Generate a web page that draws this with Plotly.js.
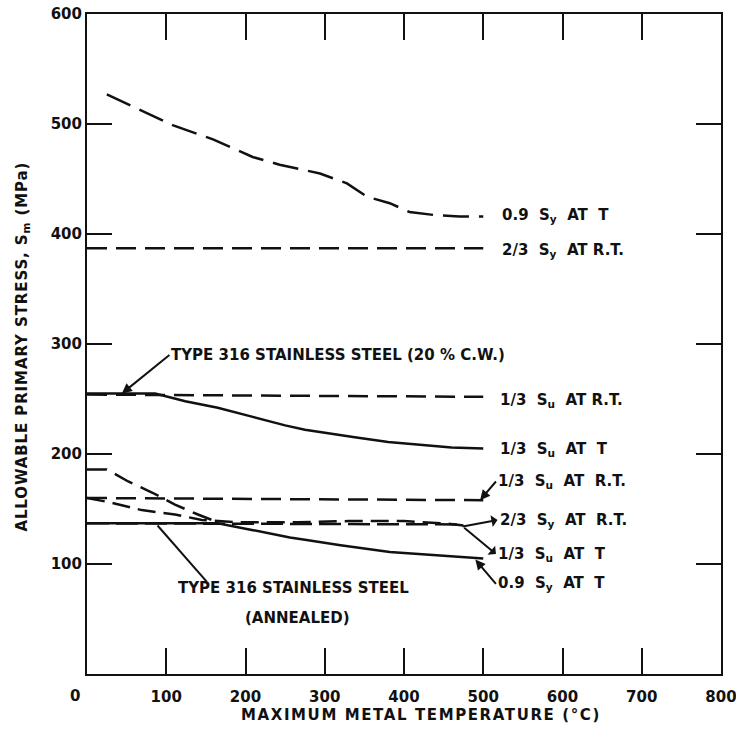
<!DOCTYPE html>
<html>
<head>
<meta charset="utf-8">
<script src="https://cdn.plot.ly/plotly-3.0.1.min.js"></script>
<style>body{margin:0;padding:0;background:#fff;}</style>
</head>
<body>
<div id="chart" style="width:736px;height:740px;"></div>
<script>
// ---- Data ----
// Type 316 SS, 20% cold worked
const cw09SyT_T = [25, 58, 108, 159, 209, 243, 294, 328, 353, 382, 407, 441, 470, 500];
const cw09SyT_S = [527, 516, 499, 486, 470, 463, 455, 446, 434, 428, 420, 417, 416, 416];
const cw23SyRT_T = [0, 500];
const cw23SyRT_S = [387, 387];
const cw13SuRT_T = [0, 500];
const cw13SuRT_S = [254, 252];
const cwSm_T = [0, 86, 124, 165, 208, 250, 275, 310, 340, 380, 424, 460, 500];
const cwSm_S = [255, 255, 248, 242, 234, 226, 222, 218, 215, 211, 208, 206, 205];
// Type 316 SS, annealed
const an09SyT_T = [0, 25, 52, 82, 111, 140, 165];
const an09SyT_S = [186, 186, 175, 165, 154, 145, 138];
const an13SuRT_T = [0, 500];
const an13SuRT_S = [160, 158];
const an13SuT_T = [0, 29, 69, 111, 145, 187, 266, 330, 400, 450, 475];
const an13SuT_S = [160, 156, 149, 145, 140, 138, 138, 139, 139, 137, 135];
const an23SyRT_T = [0, 475];
const an23SyRT_S = [137, 136];
const anSm_T = [0, 165, 208, 256, 275, 320, 382, 440, 500];
const anSm_S = [137, 137, 131, 124, 122, 117, 111, 108, 105];

const xTickVals = [100, 200, 300, 400, 500, 600, 700, 800];
const xTickText = ['100', '200', '300', '400', '500', '600', '700', '800'];
const yTickVals = [100, 200, 300, 400, 500, 600];
const yTickText = ['100', '200', '300', '400', '500', '600'];

const INK = '#111';
const FONT = 'DejaVu Sans, Liberation Sans, sans-serif';
const DASH = '20px,9px';

function ln(x, y, dash, name) {
  return {type: 'scatter', mode: 'lines', x: x, y: y, name: name,
    line: {color: INK, width: 2.5, dash: dash}, hoverinfo: 'skip'};
}

const traces = [
  ln(cw09SyT_T, cw09SyT_S, '26px,10px', 'CW 0.9 Sy at T'),
  ln(cw23SyRT_T, cw23SyRT_S, DASH, 'CW 2/3 Sy at RT'),
  ln(cw13SuRT_T, cw13SuRT_S, DASH, 'CW 1/3 Su at RT'),
  ln(cwSm_T, cwSm_S, 'solid', 'CW Sm'),
  ln(an09SyT_T, an09SyT_S, DASH, 'Annealed 0.9 Sy at T'),
  ln(an13SuRT_T, an13SuRT_S, DASH, 'Annealed 1/3 Su at RT'),
  ln(an13SuT_T, an13SuT_S, '18px,8px', 'Annealed 1/3 Su at T'),
  ln(an23SyRT_T, an23SyRT_S, '22px,7px', 'Annealed 2/3 Sy at RT'),
  ln(anSm_T, anSm_S, 'solid', 'Annealed Sm')
];

const SP = '\u00a0\u00a0';
const labelFont = {family: FONT, size: 15, color: INK, weight: 'bold'};
function lab(x, y, text) {
  return {x: x, y: y, xref: 'x', yref: 'y', text: text, showarrow: false,
    xanchor: 'left', yanchor: 'middle', font: labelFont};
}
// label with a leader line: text's left edge sits at (tx, ty), leader runs to (px, py)
function labArrow(tx, ty, px, py, text, side) {
  return {x: px, y: py, ax: tx, ay: ty, xref: 'x', yref: 'y', axref: 'x', ayref: 'y',
    text: text, showarrow: true, arrowhead: 2, arrowsize: 1, arrowwidth: 2,
    arrowcolor: INK, arrowside: side || 'end', standoff: 0, startstandoff: 0,
    xanchor: 'left', yanchor: 'middle', borderpad: 1, font: labelFont};
}

const annotations = [
  lab(521, 417, '0.9' + SP + 'S<sub>y</sub>' + SP + 'AT' + SP + 'T'),
  lab(521, 385, '2/3' + SP + 'S<sub>y</sub>' + SP + 'AT R.T.'),
  lab(519, 249, '1/3' + SP + 'S<sub>u</sub>' + SP + 'AT R.T.'),
  lab(519, 204, '1/3' + SP + 'S<sub>u</sub>' + SP + 'AT' + SP + 'T'),
  labArrow(516, 175, 496, 158, '1/3' + SP + 'S<sub>u</sub>' + SP + 'AT' + SP + 'R.T.'),
  labArrow(518, 140, 474, 134, '2/3' + SP + 'S<sub>y</sub>' + SP + 'AT' + SP + 'R.T.', 'start'),
  labArrow(516, 109, 476, 133, '1/3' + SP + 'S<sub>u</sub>' + SP + 'AT' + SP + 'T', 'start'),
  labArrow(516, 82, 490, 104, '0.9' + SP + 'S<sub>y</sub>' + SP + 'AT' + SP + 'T'),
  labArrow(104, 290, 44, 255, 'TYPE 316 STAINLESS STEEL (20 % C.W.)'),
  {x: 260, y: 78, xref: 'x', yref: 'y', text: 'TYPE 316 STAINLESS STEEL',
    showarrow: false, xanchor: 'center', yanchor: 'middle', font: labelFont},
  {x: 266, y: 51, xref: 'x', yref: 'y', text: '(ANNEALED)',
    showarrow: false, xanchor: 'center', yanchor: 'middle', font: labelFont},
  {x: 0, y: 0, xref: 'x', yref: 'paper', text: '0', showarrow: false,
    xanchor: 'center', yanchor: 'middle', xshift: -12, yshift: -22, font: labelFont},
  {x: 0.527, y: -0.062, xref: 'paper', yref: 'paper', text: 'MAXIMUM METAL TEMPERATURE (°C)',
    showarrow: false, xanchor: 'center', yanchor: 'middle', font: labelFont},
  {x: -0.1025, y: 0.495, xref: 'paper', yref: 'paper', textangle: -90,
    text: 'ALLOWABLE PRIMARY STRESS, S<sub>m</sub> (MPa)',
    showarrow: false, xanchor: 'center', yanchor: 'middle', font: labelFont}
];

// leader for the annealed label (line only)
const shapes = [
  {type: 'line', xref: 'x', yref: 'y', x0: 151, y0: 84, x1: 89, y1: 135,
    line: {color: INK, width: 2}}
];

const layout = {
  width: 736, height: 740,
  margin: {l: 87, r: 15, t: 14, b: 66},
  paper_bgcolor: '#fff', plot_bgcolor: '#fff',
  showlegend: false,
  font: {family: FONT, color: INK},
  xaxis: {
    range: [0, 800], tickvals: xTickVals, ticktext: xTickText,
    ticks: 'inside', ticklen: 26, tickwidth: 2, tickcolor: INK,
    showline: true, linewidth: 2, linecolor: INK, mirror: 'ticks',
    showgrid: false, zeroline: false, ticklabeloverflow: 'allow',
    ticklabelstandoff: 8,
    tickfont: {family: FONT, size: 15, color: INK, weight: 'bold'}
  },
  yaxis: {
    range: [0, 600], tickvals: yTickVals, ticktext: yTickText,
    ticks: 'inside', ticklen: 25, tickwidth: 2, tickcolor: INK,
    showline: true, linewidth: 2, linecolor: INK, mirror: 'ticks',
    showgrid: false, zeroline: false, ticklabeloverflow: 'allow',
    tickfont: {family: FONT, size: 15, color: INK, weight: 'bold'}
  },
  annotations: annotations,
  shapes: shapes
};

Plotly.newPlot('chart', traces, layout, {staticPlot: true, displayModeBar: false}).then(function () {
  document.querySelectorAll('.annotation-text').forEach(function (el) {
    const t = el.textContent;
    if (t.indexOf('MAXIMUM') === 0) el.style.letterSpacing = '1.6px';
    if (t.indexOf('ALLOWABLE') === 0) el.style.letterSpacing = '0.9px';
  });
});
</script>
</body>
</html>
